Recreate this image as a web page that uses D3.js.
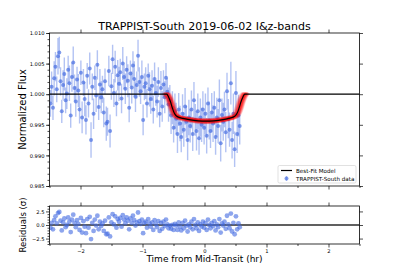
<!DOCTYPE html>
<html><head><meta charset="utf-8">
<script src="https://cdn.jsdelivr.net/npm/d3@7"></script>
<style>body{margin:0;background:#fff}svg{display:block}text{font-family:"DejaVu Sans",sans-serif}</style>
</head><body><svg id="c" width="399" height="279"></svg>
<script>
const title = "TRAPPIST-South 2019-06-02 I&z-bands";
const times = [-2.485,-2.466,-2.444,-2.425,-2.404,-2.383,-2.363,-2.342,-2.322,-2.302,
-2.281,-2.261,-2.240,-2.220,-2.199,-2.179,-2.158,-2.138,-2.117,-2.097,
-2.076,-2.056,-2.035,-2.015,-1.994,-1.974,-1.953,-1.933,-1.912,-1.892,
-1.871,-1.851,-1.830,-1.810,-1.789,-1.769,-1.748,-1.728,-1.707,-1.687,
-1.666,-1.646,-1.625,-1.605,-1.584,-1.564,-1.543,-1.523,-1.502,-1.482,
-1.461,-1.441,-1.420,-1.400,-1.379,-1.359,-1.338,-1.318,-1.297,-1.277,
-1.256,-1.236,-1.215,-1.195,-1.174,-1.154,-1.133,-1.113,-1.092,-1.072,
-1.051,-1.031,-1.010,-0.990,-0.969,-0.949,-0.928,-0.908,-0.887,-0.867,
-0.846,-0.826,-0.805,-0.785,-0.764,-0.744,-0.723,-0.703,-0.682,-0.662,
-0.641,-0.621,-0.600,-0.580,-0.559,-0.539,-0.518,-0.498,-0.477,-0.457,
-0.436,-0.416,-0.395,-0.375,-0.354,-0.334,-0.313,-0.293,-0.272,-0.252,
-0.231,-0.211,-0.190,-0.170,-0.149,-0.129,-0.108,-0.088,-0.067,-0.047,
-0.026,-0.006,0.015,0.035,0.056,0.076,0.097,0.117,0.138,0.158,
0.179,0.199,0.220,0.240,0.261,0.281,0.302,0.322,0.343,0.363,
0.384,0.404,0.425,0.445,0.466,0.486,0.507,0.527,0.548,0.568];
const flux = [0.9985,1.0012,0.9978,1.0026,1.0045,1.0008,1.0062,1.0068,1.0021,0.9972,
1.0015,1.0033,0.9990,1.0001,1.0040,1.0018,0.9965,1.0028,1.0052,1.0010,
0.9988,1.0024,1.0006,0.9975,1.0035,0.9962,1.0019,0.9992,0.9958,1.0030,
0.9985,1.0042,0.9925,1.0012,0.9968,1.0027,0.9998,1.0048,0.9979,1.0016,
0.9995,1.0008,0.9970,1.0021,0.9952,0.9955,1.0038,0.9940,1.0013,1.0057,
1.0002,1.0045,0.9985,1.0031,1.0017,1.0036,0.9993,1.0050,1.0028,1.0009,
1.0040,1.0022,0.9978,1.0034,1.0011,1.0047,1.0025,0.9996,1.0015,1.0063,
1.0020,1.0005,1.0028,0.9958,1.0012,1.0018,0.9985,1.0030,1.0008,0.9992,
1.0014,0.9975,1.0025,1.0002,0.9988,1.0020,0.9968,1.0010,0.9980,1.0016,
0.9995,1.0027,1.0004,0.9983,0.9990,0.9965,0.9978,0.9945,0.9972,0.9960,
0.9935,0.9975,0.9952,0.9930,0.9968,0.9942,0.9980,0.9955,0.9925,0.9962,
0.9948,0.9975,0.9935,0.9990,0.9958,0.9940,0.9972,0.9928,0.9962,0.9950,
0.9975,0.9945,0.9968,0.9932,0.9985,0.9957,0.9940,0.9970,0.9952,0.9978,
0.9930,0.9962,0.9948,0.9990,0.9920,0.9966,0.9955,0.9975,0.9938,1.0005,
0.9960,0.9942,1.0018,0.9925,0.9968,0.9910,1.0002,0.9935,0.9965,0.9948];
const fluxErr = [.0022,.0025,.0020,.0028,.0024,.0021,.0030,.0026,.0023,.0019,
.0024,.0027,.0021,.0025,.0023,.0029,.0020,.0024,.0026,.0022,
.0025,.0021,.0027,.0023,.0020,.0026,.0022,.0028,.0024,.0021,
.0023,.0026,.0029,.0022,.0025,.0020,.0027,.0024,.0021,.0025,
.0026,.0022,.0024,.0021,.0028,.0023,.0025,.0027,.0022,.0024,
.0023,.0026,.0021,.0025,.0028,.0022,.0024,.0027,.0020,.0025,
.0022,.0027,.0024,.0021,.0026,.0023,.0029,.0025,.0022,.0026,
.0024,.0021,.0027,.0025,.0022,.0026,.0023,.0020,.0028,.0024,
.0025,.0023,.0027,.0021,.0026,.0024,.0022,.0028,.0025,.0023,
.0026,.0024,.0022,.0028,.0025,.0030,.0027,.0024,.0029,.0026,
.0031,.0027,.0029,.0025,.0032,.0028,.0030,.0026,.0033,.0029,
.0027,.0031,.0028,.0030,.0026,.0032,.0029,.0027,.0031,.0028,
.0030,.0027,.0033,.0029,.0026,.0031,.0028,.0032,.0030,.0027,
.0029,.0032,.0028,.0034,.0030,.0027,.0031,.0029,.0033,.0030,
.0032,.0028,.0035,.0030,.0033,.0029,.0036,.0031,.0034,.0030];
const residuals = [-0.5,0.4,-0.8,0.9,1.6,0.3,2.2,2.4,0.8,-1.0,
0.5,1.2,-0.4,0.0,1.4,0.6,-1.3,1.0,1.9,0.4,
-0.4,0.9,0.2,-0.9,1.3,-1.4,0.7,-0.3,-1.5,1.1,
-0.5,1.5,-2.6,0.4,-1.1,1.0,-0.1,1.7,-0.8,0.6,
-0.2,0.3,-1.1,0.8,-1.7,-1.6,1.4,-2.1,0.5,2.0,
0.1,1.6,-0.5,1.1,0.6,1.3,-0.3,1.8,1.0,0.3,
1.4,0.8,-0.8,1.2,0.4,1.7,0.9,-0.1,0.5,2.3,
0.7,0.2,1.0,-1.5,0.4,0.6,-0.5,1.1,0.3,-0.3,
0.5,-0.9,0.9,0.1,-0.4,0.7,-1.1,0.4,-0.7,0.6,
-0.2,1.0,0.1,-0.6,-0.1,-0.7,0.0,-0.9,0.2,-0.1,
-0.9,0.5,-0.3,-1.0,0.4,-0.6,0.8,-0.1,-1.2,0.1,
-0.4,0.6,-0.8,1.1,0.0,-0.6,0.5,-1.1,0.1,-0.3,
0.6,-0.5,0.4,-0.9,1.0,0.0,-0.6,0.4,-0.2,0.7,
-1.0,0.1,-0.4,1.1,-1.4,0.3,-0.1,0.6,-0.7,1.7,
0.1,-0.6,2.1,-1.2,0.4,-1.7,1.6,-0.8,0.3,-0.4];
// best-fit model curve (time, flux)
const modelT = [-2.5,-0.61,-0.58,-0.55,-0.52,-0.49,-0.46,-0.42,-0.35,-0.25,-0.10,0.02,0.15,0.30,0.39,0.46,0.50,0.53,0.56,0.59,0.62,0.65,2.5];
const modelF = [1.0,1.0,0.99955,0.9988,0.9978,0.99695,0.9965,0.99625,0.99605,0.99585,0.99565,0.9956,0.99565,0.99585,0.99605,0.99625,0.9965,0.99695,0.9978,0.9988,0.99955,1.0,1.0];
// posterior model samples: ingress shift, egress shift, depth scale
const sampIng = [-0.03,0.02,-0.01,0.04,-0.02,0.01,0.03,-0.04,0.00,0.02,-0.03,0.05,-0.01,0.01,-0.02,0.03,-0.05,0.00,0.02,-0.02];
const sampEgr = [0.02,-0.03,0.04,-0.01,0.01,-0.04,0.00,0.03,-0.02,0.05,0.01,-0.02,0.03,-0.05,0.02,0.00,-0.01,0.04,-0.03,0.01];
const sampDepth = [1.03,0.97,1.01,0.99,1.05,0.96,1.02,0.98,1.04,1.00,0.97,1.03,0.99,1.01,0.95,1.02,1.00,0.98,1.04,0.97];
const xTicks = [-2,-1,0,1,2];
const xMinor = [-2.5,-1.5,-0.5,0.5,1.5,2.5];
const fluxTicks = [0.985,0.990,0.995,1.000,1.005,1.010];
const resTicks = [-2.5,0,2.5];
const legendLabels = ["Best-Fit Model","TRAPPIST-South data"];

const svg = d3.select("#c");
const L = 49.5, R = 359.5, T1 = 33, B1 = 186, T2 = 206, B2 = 244;
const x = d3.scaleLinear().domain([-2.5,2.5]).range([L,R]);
const y = d3.scaleLinear().domain([0.985,1.010]).range([B1,T1]);
const yr = d3.scaleLinear().domain([-3.5,3.5]).range([B2,T2]);
const blue = "#4169E1";
const fmtMinus = f => v => f(v).replace("-", "\u2212");

svg.append("defs").append("clipPath").attr("id","cp1").append("rect").attr("x",L).attr("y",T1).attr("width",R-L).attr("height",B1-T1);
svg.append("defs").append("clipPath").attr("id","cp2").append("rect").attr("x",L).attr("y",T2).attr("width",R-L).attr("height",B2-T2);

const g1 = svg.append("g").attr("clip-path","url(#cp1)");
const data = times.map((t,i)=>({t, f:flux[i], e:fluxErr[i], r:residuals[i]}));
g1.selectAll("line.eb").data(data).enter().append("line")
  .attr("x1",d=>x(d.t)).attr("x2",d=>x(d.t))
  .attr("y1",d=>y(d.f-d.e)).attr("y2",d=>y(d.f+d.e))
  .attr("stroke",blue).attr("stroke-opacity",0.4).attr("stroke-width",1.4);
g1.selectAll("circle.pt").data(data).enter().append("circle")
  .attr("cx",d=>x(d.t)).attr("cy",d=>y(d.f)).attr("r",2)
  .attr("fill",blue).attr("fill-opacity",0.65);

// model samples (transit part only)
const line = d3.line().x(d=>x(d[0])).y(d=>y(d[1])).curve(d3.curveMonotoneX);
const inner = modelT.map((t,i)=>i).filter(i=>i>0 && i<modelT.length-1);
sampIng.forEach((si,k)=>{
  const pts = inner.map(i=>{
    const t = modelT[i];
    return [t<0.02 ? t+si : t+sampEgr[k], 1-(1-modelF[i])*sampDepth[k]];
  });
  g1.append("path").attr("d",line(pts)).attr("fill","none")
    .attr("stroke","#ff0000").attr("stroke-opacity",0.13).attr("stroke-width",3.5).attr("stroke-linecap","round");
});
g1.append("path").attr("d",line(modelT.map((t,i)=>[t,modelF[i]])))
  .attr("fill","none").attr("stroke","#000").attr("stroke-width",1.2);

// residual panel
const g2 = svg.append("g").attr("clip-path","url(#cp2)");
g2.append("line").attr("x1",L).attr("x2",R).attr("y1",yr(0)).attr("y2",yr(0))
  .attr("stroke","#444").attr("stroke-width",1.8).attr("stroke-opacity",0.85);
g2.selectAll("circle").data(data).enter().append("circle")
  .attr("cx",d=>x(d.t)).attr("cy",d=>yr(d.r)).attr("r",2.4)
  .attr("fill",blue).attr("fill-opacity",0.6);

function ax(gen, tx, ty){ const g = svg.append("g").attr("transform",`translate(${tx},${ty})`).call(gen);
  g.select(".domain").remove(); g.selectAll("line").attr("stroke","#000").attr("stroke-width",0.7);
  g.selectAll("text").attr("font-size","5.2px").attr("font-family","DejaVu Sans").attr("fill","#000"); return g; }
ax(d3.axisLeft(y).tickValues(fluxTicks).tickFormat(d3.format(".3f")).tickSize(3.5).tickPadding(1.5), L, 0);
ax(d3.axisLeft(y).tickValues(d3.range(0,26).map(i=>0.985+i*0.001)).tickFormat("").tickSize(2), L, 0);
ax(d3.axisRight(y).tickValues(fluxTicks).tickFormat("").tickSize(3.5), R, 0);
ax(d3.axisTop(x).tickValues(xTicks).tickFormat("").tickSize(3.5), 0, T1);
ax(d3.axisBottom(x).tickValues(xTicks).tickFormat("").tickSize(3.5), 0, B1);
ax(d3.axisBottom(x).tickValues(xMinor).tickFormat("").tickSize(2), 0, B1);
ax(d3.axisLeft(yr).tickValues(resTicks).tickFormat(fmtMinus(d3.format(".1f"))).tickSize(3.5).tickPadding(1.5), L, 0);
ax(d3.axisLeft(yr).tickValues([-3.5,-3,-2,-1.5,-1,-0.5,0.5,1,1.5,2,3,3.5]).tickFormat("").tickSize(2), L, 0);
ax(d3.axisRight(yr).tickValues(resTicks).tickFormat("").tickSize(3.5), R, 0);
ax(d3.axisTop(x).tickValues(xTicks).tickFormat("").tickSize(3.5), 0, T2);
ax(d3.axisBottom(x).tickValues(xTicks).tickFormat(fmtMinus(d3.format("d"))).tickSize(3.5).tickPadding(1.5), 0, B2);
ax(d3.axisBottom(x).tickValues(xMinor).tickFormat("").tickSize(2), 0, B2);

[[T1,B1],[T2,B2]].forEach(([a,b])=>svg.append("rect").attr("x",L).attr("y",a).attr("width",R-L).attr("height",b-a)
  .attr("fill","none").attr("stroke","#000").attr("stroke-width",0.8));

svg.append("text").attr("x",(L+R)/2).attr("y",30).attr("text-anchor","middle").attr("font-size","11px").text(title);
svg.append("text").attr("transform",`translate(26,${(T1+B1)/2}) rotate(-90)`).attr("text-anchor","middle").attr("font-size","10px").text("Normalized Flux");
svg.append("text").attr("transform",`translate(26,${(T2+B2)/2}) rotate(-90)`).attr("text-anchor","middle").attr("font-size","8.5px").text("Residuals (\u03C3)");
svg.append("text").attr("x",(L+R)/2).attr("y",262).attr("text-anchor","middle").attr("font-size","9px").text("Time from Mid-Transit (hr)");

const lg = svg.append("g");
lg.append("rect").attr("x",278).attr("y",165.5).attr("width",78).attr("height",17.5).attr("rx",1.5)
  .attr("fill","#fff").attr("fill-opacity",0.8).attr("stroke","#ccc").attr("stroke-width",0.6);
lg.append("line").attr("x1",281).attr("x2",292).attr("y1",170.5).attr("y2",170.5).attr("stroke","#000").attr("stroke-width",1.2);
lg.append("line").attr("x1",286.5).attr("x2",286.5).attr("y1",176).attr("y2",181).attr("stroke",blue).attr("stroke-opacity",0.4).attr("stroke-width",1.4);
lg.append("circle").attr("cx",286.5).attr("cy",178.5).attr("r",2).attr("fill",blue).attr("fill-opacity",0.65);
lg.selectAll("text.l").data(legendLabels).enter().append("text")
  .attr("x",296).attr("y",(d,i)=>172.5+i*8).attr("font-size","5.6px").text(d=>d);
</script></body></html>
